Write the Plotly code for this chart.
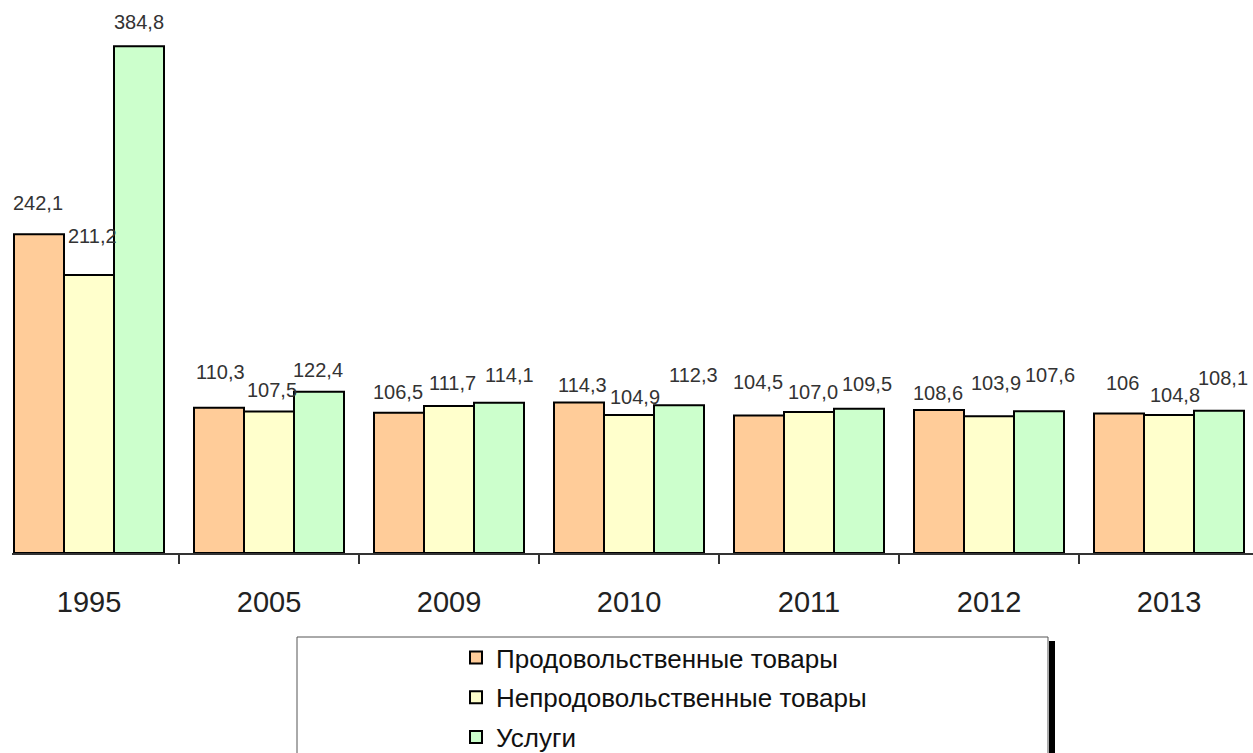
import plotly.graph_objects as go

# Price indices by year, previous year = 100
years = ["1995", "2005", "2009", "2010", "2011", "2012", "2013"]
series_names = ["Продовольственные товары", "Непродовольственные товары", "Услуги"]
food = [242.1, 110.3, 106.5, 114.3, 104.5, 108.6, 106.0]
nonfood = [211.2, 107.5, 111.7, 104.9, 107.0, 103.9, 104.8]
services = [384.8, 122.4, 114.1, 112.3, 109.5, 107.6, 108.1]
value_labels = [
    ["242,1", "110,3", "106,5", "114,3", "104,5", "108,6", "106"],
    ["211,2", "107,5", "111,7", "104,9", "107,0", "103,9", "104,8"],
    ["384,8", "122,4", "114,1", "112,3", "109,5", "107,6", "108,1"],
]

colors = ["#FFCC99", "#FFFFCC", "#CCFFCC"]

# label placement (pixels): horizontal shift and height of label centre above the bar
label_dx = [
    [-1, 1, -1, 3, -1, -1, 3],
    [3, 3, 3, 6, 4, 7, 6],
    [0, -1, 10, 14, 8, 11, 4],
]
label_dy = [
    [31, 36, 21, 18, 33, 17, 30],
    [39, 21, 23, 18, 20, 33, 20],
    [24, 22, 28, 30, 25, 36, 33],
]

FONT = "Liberation Sans, Arial, sans-serif"
W, H = 1253, 753
ML, MR, MT, MB = 12, 0, 0, 200
plot_w = W - ML - MR
plot_h = H - MT - MB
cat_px = 180.0
first_center = 89.0
x_lo = (ML - first_center) / cat_px
x_hi = (W - MR - first_center) / cat_px
y_max = 420

fig = go.Figure()
all_series = [food, nonfood, services]
for k, (name, vals) in enumerate(zip(series_names, all_series)):
    fig.add_trace(go.Bar(
        x=years, y=vals, name=name,
        marker=dict(color=colors[k], line=dict(color="#000000", width=2)),
        legendgroup=f"g{k}",
        hoverinfo="skip",
    ))

bar_w = 50.0 / cat_px
annotations = []
for k, vals in enumerate(all_series):
    for i, v in enumerate(vals):
        annotations.append(dict(
            x=i + (k - 1) * bar_w, y=v, xref="x", yref="y",
            text=value_labels[k][i], showarrow=False,
            xanchor="center", yanchor="middle",
            xshift=label_dx[k][i], yshift=label_dy[k][i],
            font=dict(family=FONT, size=20, color="#333333"),
        ))


def px_x(p):
    return (p - ML) / plot_w


def px_y(p):
    return (H - MB - p) / plot_h


shapes = [
    # legend frame shadow
    dict(type="rect", xref="paper", yref="paper",
         x0=px_x(1049), x1=px_x(1055), y0=px_y(760), y1=px_y(641),
         fillcolor="#000000", line=dict(width=0), layer="above"),
    # legend frame
    dict(type="rect", xref="paper", yref="paper",
         x0=px_x(297), x1=px_x(1048), y0=px_y(760), y1=px_y(637),
         fillcolor="rgba(0,0,0,0)", line=dict(color="#555555", width=1), layer="above"),
]

fig.update_layout(
    width=W, height=H, autosize=False,
    margin=dict(l=ML, r=MR, t=MT, b=MB, pad=0, autoexpand=False),
    paper_bgcolor="#FFFFFF", plot_bgcolor="#FFFFFF",
    barmode="group", bargap=30.0 / cat_px, bargroupgap=0,
    font=dict(family=FONT, color="#222222"),
    xaxis=dict(
        type="category", range=[x_lo, x_hi],
        showline=True, linecolor="#333333", linewidth=1.5,
        ticks="outside", tickson="boundaries", ticklen=9, tickwidth=1.5, tickcolor="#333333",
        tickfont=dict(size=29, color="#222222"), ticklabelstandoff=22,
        showgrid=False, zeroline=False,
    ),
    yaxis=dict(range=[0, y_max], visible=False, showgrid=False, zeroline=False),
    showlegend=True,
    legend=dict(
        x=px_x(456), y=px_y(634), xanchor="left", yanchor="top",
        orientation="v", traceorder="grouped", tracegroupgap=3,
        bgcolor="rgba(0,0,0,0)", borderwidth=0,
        font=dict(family=FONT, size=26, color="#111111"),
    ),
    annotations=annotations,
    shapes=shapes,
)

fig.write_html("out.html")
